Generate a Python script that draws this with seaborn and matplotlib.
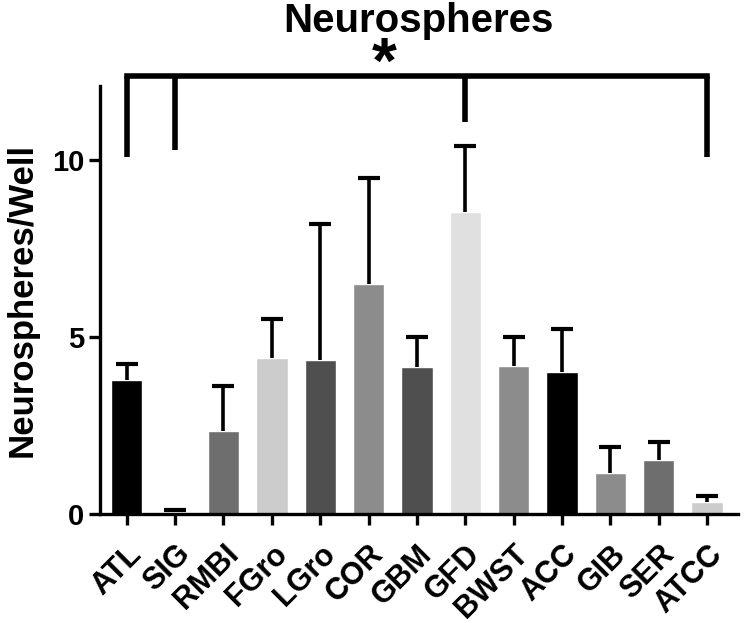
import numpy as np
import matplotlib
matplotlib.use("Agg")
import matplotlib.pyplot as plt
import seaborn as sns

groups = ['ATL', 'SIG', 'RMBI', 'FGro', 'LGro', 'COR', 'GBM', 'GFD', 'BWST', 'ACC', 'GIB', 'SER', 'ATCC']
means = [3.78, 0.05, 2.34, 4.41, 4.35, 6.5, 4.15, 8.53, 4.18, 4.01, 1.16, 1.52, 0.34]
upper = [4.24, 0.1, 3.62, 5.5, 8.2, 9.5, 5.0, 10.4, 5.0, 5.23, 1.9, 2.03, 0.5]
colors = ['#000000', '#cccccc', '#6e6e6e', '#cccccc', '#4f4f4f', '#8c8c8c', '#4f4f4f',
          '#e0e0e0', '#8c8c8c', '#000000', '#8c8c8c', '#6e6e6e', '#cccccc']

# significance bracket: which groups get a drop line and where it ends
bracket_groups = ['ATL', 'SIG', 'GFD', 'ATCC']
bracket_ends = [10.08, 10.3, 11.07, 10.08]
bracket_top = 12.39

sns.set_style("ticks")
plt.rcParams['font.family'] = ['Liberation Sans', 'DejaVu Sans']
plt.rcParams['font.weight'] = 'bold'
plt.rcParams['text.color'] = 'black'
plt.rcParams['axes.labelcolor'] = 'black'
plt.rcParams['xtick.color'] = 'black'
plt.rcParams['ytick.color'] = 'black'

fig = plt.figure(figsize=(7.44, 6.23), dpi=100)
ax = fig.add_axes([0.134, 0.175, 0.858, 0.687])

sns.barplot(x=groups, y=means, hue=groups, palette=colors, legend=False,
            width=0.65, saturation=1, ax=ax)

err = np.array(upper) - np.array(means)
xs = np.arange(len(groups))
eb = ax.errorbar(xs, means, yerr=[np.zeros(len(groups)), err], fmt='none',
                 ecolor='black', elinewidth=2.6, capsize=8, capthick=3, zorder=1)
# only keep the upper caps
eb[1][0].set_visible(False)

ax.set_ylim(0, 12.1)
ax.set_xlim(-0.56, len(groups) - 1 + 0.64)
ax.set_yticks([0, 5, 10])
ax.set_yticklabels(['0', '5', '10'], fontsize=21, fontweight='bold')
ax.set_xticks(xs)
ax.set_xticklabels(groups, rotation=45, ha='right', rotation_mode='anchor',
                   fontsize=22, fontweight='bold')
ax.tick_params(axis='both', width=2.4, length=8, direction='out', color='black')
ax.tick_params(axis='x', length=8, pad=10)
ax.tick_params(axis='y', pad=3)
ax.set_ylabel('Neurospheres/Well', fontsize=25, fontweight='bold', labelpad=10)
ax.set_xlabel('')
for s in ['left', 'bottom']:
    ax.spines[s].set_linewidth(2.4)
    ax.spines[s].set_color('black')
sns.despine(ax=ax)

# bracket
bx = [groups.index(g) for g in bracket_groups]
ax.plot([bx[0], bx[-1]], [bracket_top, bracket_top], color='black', lw=4,
        clip_on=False, solid_capstyle='projecting')
for x, yend in zip(bx, bracket_ends):
    ax.plot([x, x], [yend, bracket_top], color='black', lw=4, clip_on=False,
            solid_capstyle='butt')
ax.text(5.32, 12.2, '*', ha='center', va='baseline', fontsize=46,
        fontweight='bold', clip_on=False)

fig.text(0.563, 0.997, 'Neurospheres', ha='center', va='top', fontsize=29,
         fontweight='bold')

fig.savefig('out.png', dpi=100)
